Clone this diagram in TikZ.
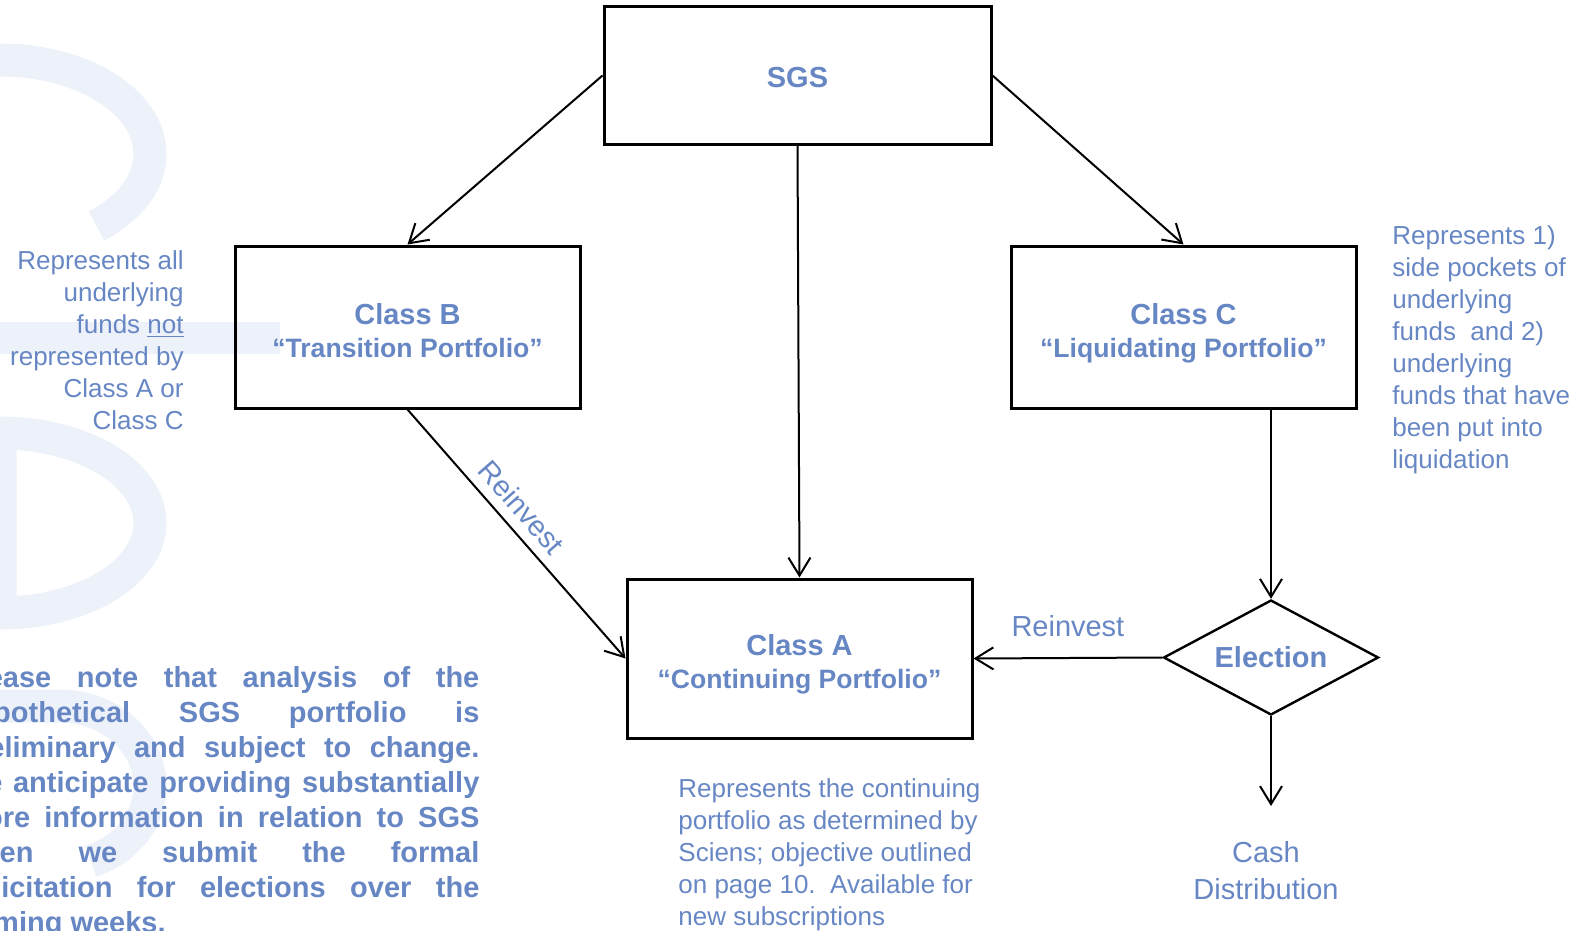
\documentclass[tikz,border=0pt]{standalone}
\usepackage{fontspec}
\setmainfont{Liberation Sans}
\usetikzlibrary{shapes.geometric,arrows.meta}
\definecolor{sgsblue}{RGB}{103,135,196}
\definecolor{markblue}{RGB}{237,241,249}
\newcommand{\boxtitle}[2]{\rule{0pt}{16.4pt}#1\\{\fontsize{13.3}{16.5}\selectfont #2\vphantom{g}}}

\begin{document}
\begin{tikzpicture}[x=0.5pt,y=-0.5pt,
		box/.style={draw=black,line width=1.5pt,minimum width=172.5pt,minimum height=81pt,inner sep=0pt,align=center,text=sgsblue,font=\fontsize{14.5}{16.5}\selectfont\bfseries},
		decide/.style={diamond,draw=black,line width=1.2pt,aspect=1.87,minimum width=107.5pt,minimum height=57.5pt,inner sep=0pt,text=sgsblue,font=\fontsize{14.5}{17}\selectfont\bfseries},
		flow/.style={line width=1pt,-{Straight Barb[length=9pt,width=11pt]}},
		note/.style={inner sep=0pt,text=sgsblue,font=\fontsize{13}{16}\selectfont},
		tag/.style={inner sep=0pt,text=sgsblue,font=\fontsize{14.5}{18.2}\selectfont}]
		\useasboundingbox (0,0) rectangle (1584,931);
		\clip (0,0) rectangle (1584,931);
		\begin{scope}[draw=markblue,line width=16.5pt]
			\draw (0,60) arc[start angle=-90,end angle=50,x radius=150,y radius=94];
			\fill[markblue] (0,322) rectangle (280,354);
			\draw (0,433) arc[start angle=-90,end angle=90,x radius=150,y radius=90] -- cycle;
			\draw (0,706) -- (60,706) arc[start angle=-90,end angle=70,x radius=90,y radius=80];
		\end{scope}
		\node[box,minimum width=193.5pt,minimum height=68.5pt,text height=12.4pt,text depth=0pt] (sgs) at (797.5,75.5) {SGS};
		\node[box] (clsB) at (407.5,327) {\boxtitle{Class B}{“Transition Portfolio”}};
		\node[box] (clsC) at (1183.5,327) {\boxtitle{Class C}{“Liquidating Portfolio”}};
		\node[box,minimum height=79.5pt] (clsA) at (799.5,658.5) {\boxtitle{Class A}{“Continuing Portfolio”}};
		\node[decide] (elect) at (1271,657.5) {Election};
		\coordinate (cashtip) at (1271,806);
		\node[tag,align=center,anchor=base] (cash) at (1266,899) {Cash\\Distribution};
		\draw[flow] (sgs.west) -- (clsB.north);
		\draw[flow] (sgs.east) -- (clsC.north);
		\draw[flow] (sgs.south) -- (clsA.north);
		\draw[flow] (clsB.south) -- node[tag,sloped,above=5pt,pos=0.45] {Reinvest} (clsA.west);
		\draw[flow] (clsC.south -| elect.north) -- (elect.north);
		\draw[flow] (elect.west) -- node[tag,above=10pt] {Reinvest} (clsA.east);
		\draw[flow] (elect.south) -- (cashtip);
		\node[note,anchor=base east,align=right] (noteB) at (184,429) {Represents all\\underlying\\funds \underline{not}\\represented by\\Class A or\\Class C};
		\node[note,anchor=base west,align=left] (noteC) at (1392,468.5) {Represents 1)\\side pockets of\\underlying\\funds\ \ and 2)\\underlying\\funds that have\\been put into\\liquidation};
		\node[note,anchor=base west,align=left] (noteA) at (678,925) {Represents the continuing\\portfolio as determined by\\Sciens; objective outlined\\on page 10.\ \ Available for\\new subscriptions};
		\node[inner sep=0pt,anchor=base west,text width=260pt,align=justify,text=sgsblue,font=\fontsize{14.5}{17.5}\selectfont\bfseries] (caveat) at (-41,687) {Please note that analysis of the\linebreak hypothetical SGS portfolio is\linebreak preliminary and subject to change.\linebreak We anticipate providing substantially\linebreak more information in relation to SGS\linebreak when we submit the formal\linebreak solicitation for elections over the\linebreak coming weeks.};
	\end{tikzpicture}
\end{document}
